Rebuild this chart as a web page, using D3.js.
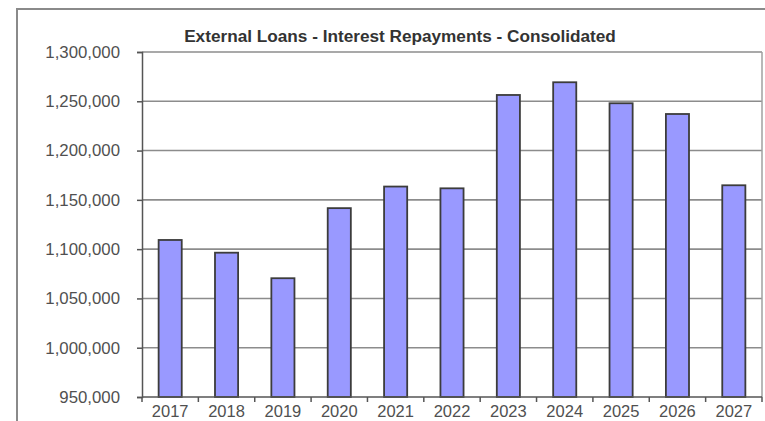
<!DOCTYPE html>
<html>
<head>
<meta charset="utf-8">
<script src="https://cdn.jsdelivr.net/npm/d3@7"></script>
<style>
  html, body { margin: 0; padding: 0; background: #fff; }
  svg { display: block; }
  text { font-family: "Liberation Sans", Arial, sans-serif; }
</style>
</head>
<body>
<svg id="chart" width="765" height="421"></svg>
<script>
// Interest repayments on external loans, consolidated, per year
const years = ["2017", "2018", "2019", "2020", "2021", "2022", "2023", "2024", "2025", "2026", "2027"];
const repayments = [1109300, 1096400, 1070500, 1141600, 1163500, 1161700, 1256400, 1269300, 1248000, 1237100, 1164800];
const yTicks = [950000, 1000000, 1050000, 1100000, 1150000, 1200000, 1250000, 1300000];
const titleText = "External Loans - Interest Repayments - Consolidated";

const svg = d3.select("#chart");
const plot = { left: 142, right: 762, top: 52, bottom: 397 };

// outer chart frame (runs past the right and bottom edges)
svg.append("rect")
  .attr("x", 17).attr("y", 9)
  .attr("width", 770).attr("height", 430)
  .attr("fill", "#fff")
  .attr("stroke", "#8a8a8a")
  .attr("stroke-width", 2);

const x = d3.scaleBand()
  .domain(years)
  .range([plot.left, plot.right])
  .paddingInner(0.59)
  .paddingOuter(0.295);

const y = d3.scaleLinear()
  .domain([950000, 1300000])
  .range([plot.bottom, plot.top]);

// horizontal gridlines
svg.append("g")
  .selectAll("line")
  .data(yTicks.slice(1))
  .join("line")
  .attr("x1", plot.left).attr("x2", plot.right)
  .attr("y1", d => y(d)).attr("y2", d => y(d))
  .attr("stroke", "#8c8c8c")
  .attr("stroke-width", 1.6);

// right edge of the plot area
svg.append("line")
  .attr("x1", plot.right).attr("x2", plot.right)
  .attr("y1", plot.top).attr("y2", plot.bottom)
  .attr("stroke", "#a0a0a0")
  .attr("stroke-width", 1.5);

// bars
svg.append("g")
  .selectAll("rect")
  .data(years.map((yr, i) => ({ yr, v: repayments[i] })))
  .join("rect")
  .attr("x", d => x(d.yr))
  .attr("width", x.bandwidth())
  .attr("y", d => y(d.v))
  .attr("height", d => y(950000) - y(d.v))
  .attr("fill", "#9999ff")
  .attr("stroke", "#3c3c3c")
  .attr("stroke-width", 1.8);

// y axis
const yAxis = svg.append("g")
  .attr("transform", `translate(${plot.left},0)`)
  .call(d3.axisLeft(y).tickValues(yTicks).tickFormat(d3.format(",")).tickSize(5).tickPadding(17));
yAxis.select(".domain").attr("stroke", "#555").attr("stroke-width", 1.5);
yAxis.selectAll(".tick line").attr("stroke", "#555").attr("stroke-width", 1.5);
yAxis.selectAll(".tick text")
  .attr("fill", "#505050")
  .style("font-size", "16.8px")
  .style("font-family", "'Liberation Sans', Arial, sans-serif");

// x axis: ticks sit on category boundaries
const step = x.step();
const boundaries = d3.range(years.length + 1).map(i => plot.left + i * step);
const xAxis = svg.append("g");
xAxis.append("line")
  .attr("x1", plot.left).attr("x2", plot.right)
  .attr("y1", plot.bottom).attr("y2", plot.bottom)
  .attr("stroke", "#555").attr("stroke-width", 1.5);
xAxis.selectAll("line.tk")
  .data(boundaries)
  .join("line")
  .attr("class", "tk")
  .attr("x1", d => d).attr("x2", d => d)
  .attr("y1", plot.bottom).attr("y2", plot.bottom + 5)
  .attr("stroke", "#555").attr("stroke-width", 1.5);
xAxis.selectAll("text")
  .data(years)
  .join("text")
  .attr("x", d => x(d) + x.bandwidth() / 2)
  .attr("y", 417)
  .attr("text-anchor", "middle")
  .attr("fill", "#505050")
  .style("font-size", "16.5px")
  .text(d => d);

// title
svg.append("text")
  .attr("x", 400)
  .attr("y", 41.5)
  .attr("text-anchor", "middle")
  .attr("fill", "#333")
  .style("font-size", "17.2px")
  .style("font-weight", "bold")
  .text(titleText);
</script>
</body>
</html>
